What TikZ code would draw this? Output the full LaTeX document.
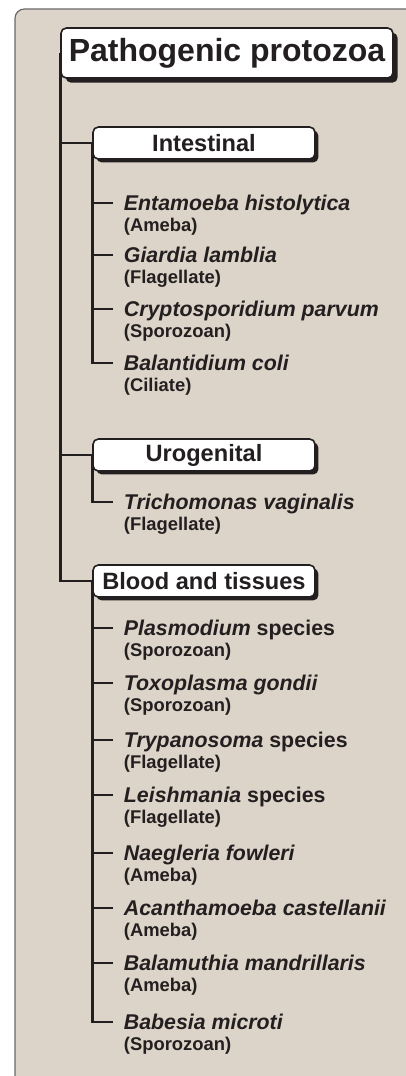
\documentclass[tikz,border=0pt]{standalone}
\usepackage{fontspec}
\setmainfont{Liberation Sans}
\usetikzlibrary{positioning,shadows,backgrounds}
\definecolor{panelBeige}{RGB}{220,212,200}
\definecolor{panelEdge}{RGB}{105,105,105}
\definecolor{inkBlack}{RGB}{35,31,32}

\begin{document}
\begin{tikzpicture}[
  x=0.75pt, y=-0.75pt,
  panel/.style={fill=panelBeige, draw=panelEdge, line width=0.9pt, rounded corners=7pt},
  tree/.style={draw=inkBlack, line width=2pt},
  boxshadow/.style={drop shadow={shadow xshift=#1, shadow yshift=-#1, fill=inkBlack, opacity=1}},
  headbox/.style={draw=inkBlack, line width=1.2pt, fill=white, rounded corners=4pt, text=inkBlack,
    font=\fontsize{24}{28}\selectfont\bfseries, minimum width=249pt, minimum height=37.5pt, inner sep=0pt, boxshadow=3.5pt},
  groupbox/.style={draw=inkBlack, line width=1.2pt, fill=white, rounded corners=4pt, text=inkBlack,
    font=\fontsize{17.7}{20}\selectfont\bfseries, minimum width=166.5pt, minimum height=24pt, inner sep=0pt, boxshadow=2.6pt},
  species/.style={anchor=west, text=inkBlack, font=\fontsize{16}{18}\selectfont\bfseries\itshape,
    inner xsep=8pt, inner ysep=0pt, text height=11.5pt, text depth=0pt},
  kind/.style={text=inkBlack, font=\fontsize{13.8}{16}\selectfont\bfseries,
    inner xsep=8pt, inner ysep=0pt, text height=9.9pt, text depth=0pt}
]
\useasboundingbox (0,0) rectangle (406,1076);
\clip (0,0) rectangle (406,1076);

% headings
\node[headbox] (title) at (227,53) {Pathogenic protozoa};
\node[groupbox] (intest) at (204,143) {Intestinal};
\node[groupbox] (uro) at (204,455) {Urogenital};
\node[groupbox] (blood) at (204,581) {Blood and tissues};

% intestinal
\node[species] (enta) at (113,203) {Entamoeba histolytica};
\node[kind, below=5.6pt of enta.south west, anchor=north west] (entak) {(Ameba)};
\node[species] (giar) at (113,255) {Giardia lamblia};
\node[kind, below=5.6pt of giar.south west, anchor=north west] (giark) {(Flagellate)};
\node[species] (cryp) at (113,309) {Cryptosporidium parvum};
\node[kind, below=5.6pt of cryp.south west, anchor=north west] (crypk) {(Sporozoan)};
\node[species] (bala) at (113,363) {Balantidium coli};
\node[kind, below=5.6pt of bala.south west, anchor=north west] (balak) {(Ciliate)};

% urogenital
\node[species] (tric) at (113,502) {Trichomonas vaginalis};
\node[kind, below=5.6pt of tric.south west, anchor=north west] (trick) {(Flagellate)};

% blood and tissues
\node[species] (plas) at (113,628) {Plasmodium {\upshape species}};
\node[kind, below=5.6pt of plas.south west, anchor=north west] (plask) {(Sporozoan)};
\node[species] (toxo) at (113,683) {Toxoplasma gondii};
\node[kind, below=5.6pt of toxo.south west, anchor=north west] (toxok) {(Sporozoan)};
\node[species] (tryp) at (113,740) {Trypanosoma {\upshape species}};
\node[kind, below=5.6pt of tryp.south west, anchor=north west] (trypk) {(Flagellate)};
\node[species] (leis) at (113,795) {Leishmania {\upshape species}};
\node[kind, below=5.6pt of leis.south west, anchor=north west] (leisk) {(Flagellate)};
\node[species] (naeg) at (113,853) {Naegleria fowleri};
\node[kind, below=5.6pt of naeg.south west, anchor=north west] (naegk) {(Ameba)};
\node[species] (acan) at (113,908) {Acanthamoeba castellanii};
\node[kind, below=5.6pt of acan.south west, anchor=north west] (acank) {(Ameba)};
\node[species] (balm) at (113,963) {Balamuthia mandrillaris};
\node[kind, below=5.6pt of balm.south west, anchor=north west] (balmk) {(Ameba)};
\node[species] (babe) at (113,1022) {Babesia microti};
\node[kind, below=5.6pt of babe.south west, anchor=north west] (babek) {(Sporozoan)};

% panel and tree lines, behind the boxes
\begin{scope}[on background layer]
\path[panel] (440,1100) -- (440,9) -- (15,9) -- (15,1100) -- cycle;
\draw[tree] (title.west) |- (intest.west);
\draw[tree] (title.west) |- (uro.west);
\draw[tree] (title.west) |- (blood.west);
\draw[tree] (intest.west) |- (enta.west);
\draw[tree] (intest.west) |- (giar.west);
\draw[tree] (intest.west) |- (cryp.west);
\draw[tree] (intest.west) |- (bala.west);
\draw[tree] (uro.west) |- (tric.west);
\draw[tree] (blood.west) |- (plas.west);
\draw[tree] (blood.west) |- (toxo.west);
\draw[tree] (blood.west) |- (tryp.west);
\draw[tree] (blood.west) |- (leis.west);
\draw[tree] (blood.west) |- (naeg.west);
\draw[tree] (blood.west) |- (acan.west);
\draw[tree] (blood.west) |- (balm.west);
\draw[tree] (blood.west) |- (babe.west);
\end{scope}
\end{tikzpicture}
\end{document}
